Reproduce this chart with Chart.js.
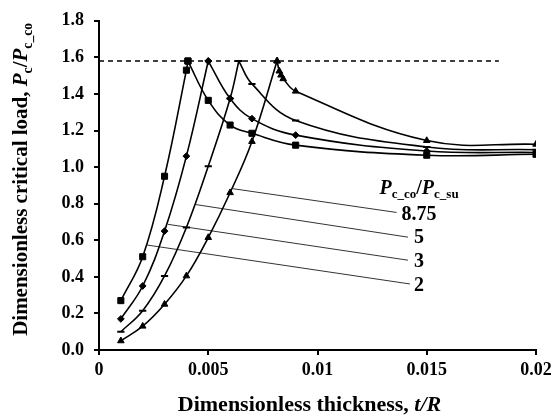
<!DOCTYPE html>
<html>
<head>
<meta charset="utf-8">
<script src="https://cdn.jsdelivr.net/npm/chart.js@4.4.1/dist/chart.umd.min.js"></script>
<style>
  html, body { margin: 0; padding: 0; background: #fff; }
  canvas { display: block; }
</style>
</head>
<body>
<canvas id="myChart" width="559" height="416"></canvas>
<script>
// thickness ratio t/R and critical load ratio for each strength ratio
const tRatio2 = [0.001, 0.002, 0.003, 0.004, 0.00407, 0.005, 0.006, 0.007, 0.009, 0.015, 0.02];
const load2 = [0.27, 0.51, 0.95, 1.53, 1.58, 1.365, 1.23, 1.185, 1.12, 1.065, 1.07];

const tRatio3 = [0.001, 0.002, 0.003, 0.004, 0.005, 0.006, 0.007, 0.009, 0.015, 0.02];
const load3 = [0.17, 0.35, 0.65, 1.06, 1.58, 1.375, 1.265, 1.175, 1.088, 1.08];

const tRatio5 = [0.001, 0.002, 0.003, 0.004, 0.005, 0.006, 0.0064, 0.007, 0.009, 0.015, 0.02];
const load5 = [0.10, 0.215, 0.405, 0.67, 1.005, 1.375, 1.58, 1.455, 1.255, 1.11, 1.095];

const tRatio875 = [0.001, 0.002, 0.003, 0.004, 0.005, 0.006, 0.007, 0.00815, 0.00825, 0.00833, 0.00843, 0.009, 0.015, 0.02];
const load875 = [0.05, 0.13, 0.25, 0.405, 0.615, 0.86, 1.14, 1.58, 1.525, 1.503, 1.483, 1.415, 1.145, 1.125];

// upper limit line
const limitLoad = 1.58;
const limitRange = [0, 0.0183];

// axis ticks
const xTicks = [0, 0.005, 0.01, 0.015, 0.02];
const xTickLabels = ['0', '0.005', '0.01', '0.015', '0.02'];
const yTicks = [0, 0.2, 0.4, 0.6, 0.8, 1.0, 1.2, 1.4, 1.6, 1.8];

// ratio labels with their leader lines: [t, P] start -> end, label anchor
const ratioLabels = ['8.75', '5', '3', '2'];
const leaderStart = [[0.00613, 0.882], [0.00444, 0.795], [0.00316, 0.687], [0.0022, 0.574]];
const leaderEnd = [[0.01362, 0.752], [0.01414, 0.617], [0.01414, 0.491], [0.01423, 0.361]];
const labelPos = [[0.01385, 0.741], [0.01442, 0.611], [0.01442, 0.482], [0.01442, 0.352]];
const headerPos = [0.01465, 0.893];

const serif = '"Liberation Serif", "Times New Roman", serif';

const toPoints = (xs, ys) => xs.map((x, i) => ({ x: x, y: ys[i] }));

// each curve is drawn as a rising and a falling branch so the peak stays sharp
function curveSets(xs, ys, style, radius) {
  const peak = ys.indexOf(Math.max(...ys));
  const pts = toPoints(xs, ys);
  const base = {
    showLine: true,
    borderColor: '#000',
    borderWidth: 1.6,
    tension: 0.4,
    pointStyle: style,
    pointRadius: radius,
    pointBackgroundColor: '#000',
    pointBorderColor: '#000',
    pointBorderWidth: style === 'line' ? 2 : 1
  };
  return [
    Object.assign({ data: pts.slice(0, peak + 1) }, base),
    Object.assign({ data: pts.slice(peak) }, base)
  ];
}

const datasets = [
  ...curveSets(tRatio2, load2, 'rect', 4.3),
  ...curveSets(tRatio3, load3, 'rectRot', 3.4),
  ...curveSets(tRatio5, load5, 'line', 3.6),
  ...curveSets(tRatio875, load875, 'triangle', 3.8),
  {
    data: [{ x: limitRange[0], y: limitLoad }, { x: limitRange[1], y: limitLoad }],
    showLine: true,
    borderColor: '#000',
    borderWidth: 1.4,
    borderDash: [5, 4],
    pointRadius: 0
  }
];

leaderStart.forEach((s, i) => {
  datasets.push({
    data: [{ x: s[0], y: s[1] }, { x: leaderEnd[i][0], y: leaderEnd[i][1] }],
    showLine: true,
    borderColor: '#333',
    borderWidth: 1,
    pointRadius: 0
  });
});

// draws a run of text pieces, some italic, some lowered as subscripts
function drawRuns(ctx, runs, x, y, size, align) {
  const fontOf = r => {
    const s = r.sub ? size * 0.65 : size;
    return (r.italic ? 'italic ' : '') + 'bold ' + s + 'px ' + serif;
  };
  let total = 0;
  runs.forEach(r => { ctx.font = fontOf(r); total += ctx.measureText(r.text).width; });
  let cx = align === 'center' ? x - total / 2 : x;
  ctx.textAlign = 'left';
  ctx.textBaseline = 'alphabetic';
  runs.forEach(r => {
    ctx.font = fontOf(r);
    ctx.fillText(r.text, cx, r.sub ? y + size * 0.22 : y);
    cx += ctx.measureText(r.text).width;
  });
}

const textPlugin = {
  id: 'textPlugin',
  afterDraw(chart) {
    const ctx = chart.ctx;
    const xs = chart.scales.x;
    const ys = chart.scales.y;
    const area = chart.chartArea;
    ctx.save();
    ctx.fillStyle = '#000';

    // x axis title
    drawRuns(ctx, [
      { text: 'Dimensionless thickness, ' },
      { text: 't/R', italic: true }
    ], (area.left + area.right) / 2 - 8, 411, 22, 'center');

    // y axis title
    ctx.save();
    ctx.translate(27, (area.top + area.bottom) / 2 - 6);
    ctx.rotate(-Math.PI / 2);
    drawRuns(ctx, [
      { text: 'Dimensionless critical load, ' },
      { text: 'P', italic: true },
      { text: 'c', sub: true },
      { text: '/' },
      { text: 'P', italic: true },
      { text: 'c_co', sub: true }
    ], 0, 0, 21, 'center');
    ctx.restore();

    // ratio header
    drawRuns(ctx, [
      { text: 'P', italic: true },
      { text: 'c_co', sub: true },
      { text: '/' },
      { text: 'P', italic: true },
      { text: 'c_su', sub: true }
    ], xs.getPixelForValue(headerPos[0]), ys.getPixelForValue(headerPos[1]) + 7, 20, 'center');

    // ratio values
    ctx.font = 'bold 20px ' + serif;
    ctx.textAlign = 'left';
    ctx.textBaseline = 'middle';
    ratioLabels.forEach((txt, i) => {
      ctx.fillText(txt, xs.getPixelForValue(labelPos[i][0]), ys.getPixelForValue(labelPos[i][1]));
    });
    ctx.restore();
  }
};

const ctx = document.getElementById('myChart').getContext('2d');
new Chart(ctx, {
  type: 'scatter',
  data: { datasets: datasets },
  options: {
    responsive: false,
    animation: false,
    layout: { padding: { top: 17, right: 23, left: 0, bottom: 0 } },
    plugins: {
      legend: { display: false },
      tooltip: { enabled: false }
    },
    scales: {
      x: {
        type: 'linear',
        min: 0,
        max: 0.02,
        afterBuildTicks: scale => { scale.ticks = xTicks.map(v => ({ value: v })); },
        afterFit: scale => { scale.height = 66; },
        border: { display: true, color: '#000', width: 2 },
        grid: { drawOnChartArea: false, drawTicks: true, tickLength: 5, color: '#000', lineWidth: 2 },
        ticks: {
          color: '#000',
          padding: 5,
          maxRotation: 0,
          font: { family: serif, size: 18, weight: 'bold' },
          callback: (v, i) => xTickLabels[i]
        }
      },
      y: {
        min: 0,
        max: 1.8,
        afterBuildTicks: scale => { scale.ticks = yTicks.map(v => ({ value: v })); },
        afterFit: scale => { scale.width = 99; },
        border: { display: true, color: '#000', width: 2 },
        grid: { drawOnChartArea: false, drawTicks: true, tickLength: 5, color: '#000', lineWidth: 2 },
        ticks: {
          color: '#000',
          padding: 10,
          font: { family: serif, size: 18, weight: 'bold' },
          callback: v => v.toFixed(1)
        }
      }
    }
  },
  plugins: [textPlugin]
});
</script>
</body>
</html>
